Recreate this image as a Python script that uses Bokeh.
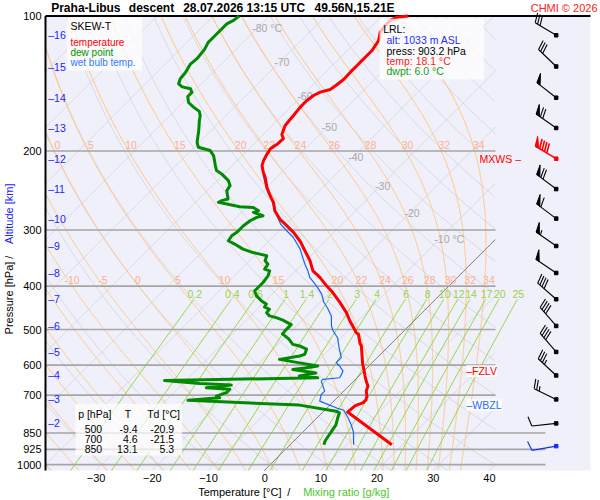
import math
import numpy as np
from bokeh.plotting import figure
from bokeh.models import (Range1d, FixedTicker, PrintfTickFormatter, Label, BoxAnnotation)
from bokeh.core.properties import value
from bokeh.embed import file_html
from bokeh.resources import INLINE

# ---------------- data ----------------
temp_p = [100.0, 100.6, 102.3, 105.0, 108.7, 113.4, 116.3, 119.4, 122.5, 125.6, 128.9, 133.4,
          138.5, 142.9, 145.8, 147.8, 150.4, 154.3, 159.6, 166.7, 175.5, 183.7, 187.6, 193.5,
          197.5, 202.6, 210.1, 215.5, 222.9, 228.6, 240.7, 251.5, 260.3, 271.6, 283.6, 293.4,
          303.6, 318.6, 333.7, 351.3, 369.9, 382.6, 399.5, 413.5, 434.8, 458.4, 478.4, 499.3,
          508.0, 512.3, 535.7, 544.0, 572.7, 597.8, 613.4, 634.8, 651.4, 668.3, 685.8, 703.6,
          717.3, 728.6, 734.8, 740.8, 763.6, 903.2]
temp_t = [-55.3, -57.1, -57.7, -57.7, -57.4, -56.2, -55.9, -55.6, -55.6, -55.6, -55.6, -55.6,
          -55.5, -55.8, -56.1, -57.4, -58.0, -58.3, -58.3, -58.0, -57.7, -56.7, -55.7, -55.8,
          -56.2, -55.9, -55.3, -54.7, -53.3, -52.1, -50.0, -47.9, -46.1, -44.4, -42.0, -39.6,
          -37.2, -34.3, -31.9, -29.2, -26.9, -24.5, -21.8, -19.5, -16.5, -13.5, -11.4, -9.1,
          -8.2, -7.5, -5.7, -4.9, -3.0, -1.4, -0.3, 1.1, 2.2, 3.4, 4.0, 5.0,
          5.5, 5.5, 4.9, 4.6, 4.4, 18.1]

dewp_p = [100.0, 102.3, 104.1, 107.7, 111.5, 114.5, 118.7, 124.5, 128.2, 133.6, 138.0, 141.6,
          143.9, 145.3, 148.0, 151.2, 155.9, 159.6, 163.2, 166.7, 171.9, 180.0, 191.2, 196.1,
          199.5, 204.7, 215.5, 221.1, 224.9, 232.8, 238.9, 245.1, 255.8, 258.0, 260.3, 262.5,
          266.2, 267.1, 271.6, 274.0, 278.7, 281.1, 286.0, 293.4, 303.6, 308.9, 317.0, 322.4,
          330.9, 336.8, 339.5, 342.4, 351.3, 357.4, 366.7, 369.9, 379.5, 392.7, 403.4, 409.9,
          420.6, 431.6, 438.4, 445.2, 450.6, 458.4, 466.2, 470.4, 476.2, 487.4, 498.8, 511.2,
          524.6, 539.4, 544.0, 552.9, 567.8, 572.7, 582.7, 593.2, 603.0, 608.4, 614.1, 624.6,
          634.8, 640.4, 649.4, 659.5, 664.9, 673.7, 679.4, 691.3, 703.6, 709.7, 719.1, 728.0,
          736.9, 760.1, 767.0, 787.5, 815.4, 837.6, 860.0, 883.6, 903.2]
dewp_t = [-85.4, -85.6, -86.2, -86.2, -86.2, -86.2, -85.6, -85.3, -85.5, -84.9, -84.7, -84.1,
          -82.9, -81.1, -80.2, -80.2, -79.0, -77.3, -75.5, -74.6, -73.7, -72.2, -70.4, -69.3,
          -66.6, -65.1, -63.0, -61.9, -60.4, -58.0, -56.8, -56.5, -54.8, -55.6, -55.9, -54.1,
          -51.3, -48.8, -47.3, -47.9, -45.6, -46.4, -47.0, -47.3, -47.3, -47.6, -47.3, -45.6,
          -43.2, -40.8, -39.3, -37.8, -37.2, -36.1, -35.8, -34.6, -34.0, -33.7, -33.7, -33.7,
          -32.5, -30.7, -29.3, -29.1, -27.8, -27.7, -26.6, -25.1, -23.5, -21.2, -21.2, -21.1,
          -19.1, -17.4, -15.9, -14.1, -13.5, -14.1, -17.1, -12.9, -9.1, -10.8, -12.9, -8.2,
          -10.6, -7.0, -33.8, -27.0, -21.1, -25.1, -20.6, -20.6, -21.8, -20.9, -26.1, -15.6,
          -5.4, 2.2, 3.1, 3.7, 4.6, 4.9, 5.2, 5.5, 6.0]

# wet bulb below the level where it leaves the temperature curve
wetb_p = [226.9, 243.1, 258.0, 276.8, 291.9, 301.1, 311.3, 330.4, 347.7, 360.5, 369.9, 382.6,
          399.5, 416.8, 433.5, 447.6, 466.2, 490.8, 503.6, 521.5, 549.7, 577.5, 592.7, 603.0,
          618.7, 629.4, 640.4, 645.7, 651.4, 685.8, 698.3, 722.0, 750.5, 756.4, 786.5, 818.4,
          846.1, 903.2]
wetb_t = [-52.7, -49.7, -46.7, -43.5, -40.8, -38.7, -36.4, -33.1, -30.8, -29.1, -27.8, -26.3,
          -23.6, -21.2, -19.5, -17.7, -15.6, -13.8, -12.6, -10.6, -8.5, -6.4, -6.4, -5.2,
          -3.7, -3.4, -3.1, -5.8, -5.8, -3.4, -3.4, -2.5, 2.2, 3.4, 5.5, 7.5,
          9.0, 11.3]

alt_km = [16, 15, 14, 13, 12, 11, 10, 9, 8, 7, 6, 5, 4, 3, 2]
alt_p = [110.4, 129.6, 152.1, 177.7, 208.0, 243.1, 282.9, 325.6, 374.0, 428.0, 490.8,
         560.9, 632.9, 715.6, 809.4]

wind_km = [1, 2, 3, 4, 5, 6, 7, 8, 9, 10, 11, 12, 13, 14, 15, 16]
wind_p = [909.6, 809.4, 715.6, 632.9, 560.9, 490.8, 428.0, 374.0, 325.6, 282.9, 243.1,
          208.0, 177.7, 152.1, 129.6, 110.4]
wind_dir = [260, 264, 296, 313, 319, 319, 311, 304, 305, 307, 307, 301, 305, 308, 314, 301]
wind_kt = [10, 10, 25, 35, 40, 40, 40, 50, 55, 60, 70, 90, 70, 50, 30, 30]

table_p = [500, 700, 850]
table_t = [-9.4, 4.6, 13.1]
table_td = [-20.9, -21.5, 5.3]

lrl_alt, lrl_press, lrl_temp, lrl_dwpt = 1033, 903.2, 18.1, 6.0
fzlv_p, wbzl_p, mxws_km = 618.7, 737.0, 12

isobars = [200, 300, 400, 500, 600, 700, 850, 925, 1000]
p_ticks = [100, 200, 300, 400, 500, 600, 700, 850, 925, 1000]
t_ticks = [-30, -20, -10, 0, 10, 20, 30, 40]

iso_label_t = [-80, -70, -60, -50, -40, -30, -20, -10]
iso_label_p = [106.5, 126.9, 150.4, 176.9, 206.2, 239.6, 274.9, 314.8]

moist_tw = [-40, -35, -30, -25, -20, -15, -10, -5, 0, 5, 10, 15, 20, 22, 24, 26, 28, 30, 32, 34]
moist_lab_top = [0, 5, 10, 15, 20, 22, 24, 26, 28, 30, 32, 34]
moist_lab_bot = [-10, -5, 0, 5, 10, 15, 20, 22, 24, 26, 28, 30, 32, 34]

mixing_w = [0.2, 0.4, 0.6, 1, 1.4, 2, 3, 4, 6, 8, 10, 12, 14, 17, 20, 25]
mixing_lab = ["0.2", "0.4", "0.6", "1", "1.4", "2", "3", "4", "6", "8", "10", "12", "14",
              "17", "20", "25"]

# ---------------- layout / style ----------------
W, H = 598, 498            # the frame fills the whole canvas
PX_X = 5.6186              # pixels per degree
PX_DEC = 448.6             # pixels per pressure decade
XPIX0 = 264.2              # page x of the 0 tick at 1000 hPa
YPIX100 = 15.5             # page y of 100 hPa
K = PX_DEC / PX_X          # skew
X_OFF = 1.0


def dx(px):               # page x -> data x
    return (px - XPIX0) / PX_X


def dp(py):               # page y -> pressure
    return 100.0 * 10 ** ((py - YPIX100) / PX_DEC)


X_L, X_R = dx(45), dx(590)
P_B, P_T = dp(470), 100.0
X_CLIP, X_CLIP_LOW = dx(495), dx(545)
MR_TOP, MR_LAB = 428.0, 416.0
ML_TOP, ML_BOT = 193.6, 387.6
FONT = "Liberation Sans"
LAV = "#f0f0fb"


def skx(t, pp):
    return np.asarray(t, float) + K * np.log10(1000.0 / np.asarray(pp, float)) + X_OFF


def runs(x, y, ok):
    xs, ys, cx, cy = [], [], [], []
    for xi, yi, oi in zip(x, y, ok):
        if oi:
            cx.append(float(xi)); cy.append(float(yi))
        else:
            if len(cx) > 1:
                xs.append(cx); ys.append(cy)
            cx, cy = [], []
    if len(cx) > 1:
        xs.append(cx); ys.append(cy)
    return xs, ys


p = figure(width=W, height=H, x_range=Range1d(dx(0), dx(W)), y_range=Range1d(dp(H), dp(0)),
           y_axis_type="log", output_backend="svg", toolbar_location=None,
           min_border=0, min_border_left=0, min_border_right=0, min_border_top=0,
           min_border_bottom=0)
p.background_fill_color = "white"
p.border_fill_color = "white"
p.outline_line_color = None
p.xgrid.visible = False
p.ygrid.visible = False

# chart panel
p.quad(left=[X_L], right=[X_R], top=[P_T], bottom=[P_B], fill_color=LAV, line_color=None)

p.xaxis.fixed_location = P_B
p.xaxis.ticker = FixedTicker(ticks=t_ticks)
p.xaxis.axis_line_color = None
p.xaxis.major_tick_line_color = None
p.xaxis.minor_tick_line_color = None
p.xaxis.major_tick_out = 0
p.xaxis.major_tick_in = 0
p.xaxis.major_label_text_font = FONT
p.xaxis.major_label_text_font_size = "11px"
p.xaxis.major_label_text_color = "black"
p.xaxis.major_label_standoff = 3

p.yaxis.fixed_location = X_L
p.yaxis.ticker = FixedTicker(ticks=p_ticks)
p.yaxis.formatter = PrintfTickFormatter(format="%d")
p.yaxis.axis_line_color = None
p.yaxis.major_tick_line_color = None
p.yaxis.minor_tick_line_color = None
p.yaxis.major_tick_out = 0
p.yaxis.major_tick_in = 0
p.yaxis.major_label_text_font = FONT
p.yaxis.major_label_text_font_size = "11px"
p.yaxis.major_label_text_color = "black"
p.yaxis.major_label_standoff = 4

pg = np.geomspace(P_B, P_T, 700)


def inside(x, pp, xmax):
    return (x >= X_L) & (x <= xmax) & (pp <= P_B + 0.01) & (pp >= P_T - 0.01)


# isotherms and dry adiabats
gx, gy = [], []
for t in range(-130, 51, 10):
    x = skx(np.full_like(pg, t), pg)
    a, b = runs(x, pg, inside(x, pg, X_CLIP))
    gx += a; gy += b
for th in range(-40, 211, 10):
    tt = (th + 273.15) * (pg / 1000.0) ** 0.2857 - 273.15
    x = skx(tt, pg)
    a, b = runs(x, pg, inside(x, pg, X_CLIP))
    gx += a; gy += b
p.multi_line(gx, gy, line_color="#d6d6dc", line_width=1)

# pseudo-adiabats
RD, CPD, LV, EPS = 287.04, 1005.7, 2.501e6, 0.622


def dtdp(T, pr):
    tc = T - 273.15
    es = 6.112 * np.exp(17.67 * tc / (tc + 243.5))
    rs = EPS * es / (pr - es)
    return (RD * T + LV * rs) / (CPD + LV * LV * rs * EPS / (RD * T * T)) / pr


def integrate(t0, plev):
    T = np.asarray(t0, float) + 273.15
    out = [T.copy()]
    for i in range(1, len(plev)):
        p0 = plev[i - 1]; h = plev[i] - p0
        k1 = dtdp(T, p0)
        k2 = dtdp(T + 0.5 * h * k1, p0 + 0.5 * h)
        k3 = dtdp(T + 0.5 * h * k2, p0 + 0.5 * h)
        k4 = dtdp(T + h * k3, p0 + h)
        T = T + h * (k1 + 2 * k2 + 2 * k3 + k4) / 6.0
        out.append(T.copy())
    return np.array(out) - 273.15


p_up = np.linspace(1000.0, 100.0, 901)
p_dn = np.linspace(1000.0, 1030.0, 31)
t_up = integrate(moist_tw, p_up)
t_dn = integrate(moist_tw, p_dn)
p_all = np.concatenate([p_dn[::-1], p_up[1:]])
t_all = np.concatenate([t_dn[::-1], t_up[1:]])
mx, my = [], []
for j in range(len(moist_tw)):
    x = skx(t_all[:, j], p_all)
    a, b = runs(x, p_all, inside(x, p_all, X_CLIP))
    mx += a; my += b
p.multi_line(mx, my, line_color="#ffc67a", line_width=1)


def moist_x_at(tw, pl):
    j = moist_tw.index(tw)
    tt = np.interp(np.log(pl), np.log(p_all[::-1]), t_all[::-1, j])
    return float(skx(tt, pl))


# mixing ratio lines
mr_p = np.geomspace(P_B, MR_TOP, 120)
rx, ry, rlx = [], [], []
for w in mixing_w:
    e = w * mr_p / (622.0 + w)
    L = np.log(e / 6.112)
    td = 243.5 * L / (17.67 - L)
    x = skx(td, mr_p)
    rx.append(list(x)); ry.append(list(mr_p)); rlx.append(float(x[-1]))
p.multi_line(rx, ry, line_color="#92d63c", line_width=1)

# 0 degC isotherm
z = skx(np.zeros_like(pg), pg)
zx, zy = runs(z, pg, inside(z, pg, X_CLIP))
p.multi_line(zx, zy, line_color="#6e6e6e", line_width=1)

# isobars
ib_x1 = [X_CLIP if v < 800 else X_CLIP_LOW for v in isobars]
p.segment(x0=[X_L] * len(isobars), y0=isobars, x1=ib_x1, y1=isobars,
          line_color="#a6a6a6", line_width=1.6)

# background labels
txt_kw = dict(text_font=value(FONT), text_font_size=value("10.5px"), text_baseline="middle")
p.text(x=[moist_x_at(tw, ML_TOP) for tw in moist_lab_top], y=[ML_TOP] * len(moist_lab_top),
       text=[str(tw) for tw in moist_lab_top], text_color="#ffae8e", text_align="center",
       x_offset=6, **txt_kw)
p.text(x=[moist_x_at(tw, ML_BOT) for tw in moist_lab_bot], y=[ML_BOT] * len(moist_lab_bot),
       text=[str(tw) for tw in moist_lab_bot], text_color="#ffae8e", text_align="center",
       x_offset=4, **txt_kw)
p.text(x=rlx, y=[MR_LAB] * len(rlx), text=mixing_lab, text_color="#9ad24a",
       text_align="center", x_offset=1, **txt_kw)
iso_txt = [f"{t} °C" if t in (-80, -10) else str(t) for t in iso_label_t]
p.text(x=list(skx(iso_label_t, iso_label_p)), y=iso_label_p, text=iso_txt,
       text_color="#a8a8a8", text_align="left", x_offset=-5, **txt_kw)

# altitude scale
p.text(x=[dx(47.7)] * len(alt_km), y=alt_p, text=[f"\u2013{k}" for k in alt_km],
       text_color="#1c1cff", text_align="left", **txt_kw)

# frame lines (left and top)
p.segment(x0=[X_L, X_L], y0=[P_B, P_T], x1=[X_L, X_R], y1=[P_T, P_T],
          line_color="black", line_width=2)

# profiles
wb_p = [pp for pp in temp_p if pp < wetb_p[0]] + wetb_p
wb_t = [tt for pp, tt in zip(temp_p, temp_t) if pp < wetb_p[0]] + wetb_t
p.line(list(skx(wb_t, wb_p)), wb_p, line_color="#1565f0", line_width=1.2)
p.line(list(skx(dewp_t, dewp_p)), dewp_p, line_color="#008a00", line_width=3,
       line_join="round")
p.line(list(skx(temp_t, temp_p)), temp_p, line_color="#ff0000", line_width=3,
       line_join="round")

# wind barbs
BX = dx(555.7)
SHAFT, FULL, GAP, PENN = 24.5, 10.0, 2.8, 4.0


def barb_parts(ddeg, spd):
    d = math.radians(ddeg)
    sx, sy = math.sin(d), math.cos(d)
    bx, by = sy + 0.3 * sx, -sx + 0.3 * sy
    n = math.hypot(bx, by); bx /= n; by /= n
    segs = [(0.0, 0.0, SHAFT * sx, SHAFT * sy)]
    tris = []
    pos = SHAFT
    n50, rem = divmod(int(round(spd / 5.0)) * 5, 50)
    n10, rem = divmod(rem, 10)
    for _ in range(n50):
        a, b = pos, pos - PENN
        tris.append(([a * sx, a * sx + FULL * bx, b * sx], [a * sy, a * sy + FULL * by, b * sy]))
        pos -= PENN + 1.2
    for _ in range(n10):
        segs.append((pos * sx, pos * sy, pos * sx + FULL * bx, pos * sy + FULL * by))
        pos -= GAP
    if rem >= 5:
        if n50 == 0 and n10 == 0:
            pos -= GAP
        segs.append((pos * sx, pos * sy, pos * sx + 0.5 * FULL * bx, pos * sy + 0.5 * FULL * by))
    return segs, tris


def to_data(p0, ddx, ddy):
    return BX + ddx / PX_X, p0 * 10 ** (-ddy / PX_DEC)


for km, p0, dd, sp in zip(wind_km, wind_p, wind_dir, wind_kt):
    col = "#ff0000" if km == mxws_km else ("#1030ee" if km == min(wind_km) else "black")
    lw = 1.6 if km == mxws_km else 1.1
    segs, tris = barb_parts(dd, sp)
    s0 = [to_data(p0, a, b) for a, b, _, _ in segs]
    s1 = [to_data(p0, c, d) for _, _, c, d in segs]
    p.segment(x0=[q[0] for q in s0], y0=[q[1] for q in s0], x1=[q[0] for q in s1],
              y1=[q[1] for q in s1], line_color=col, line_width=lw)
    if tris:
        txs, tys = [], []
        for tx, ty in tris:
            pts = [to_data(p0, a, b) for a, b in zip(tx, ty)]
            txs.append([q[0] for q in pts]); tys.append([q[1] for q in pts])
        p.patches(txs, tys, fill_color=col, line_color=col, line_width=1)
    p.scatter(x=[BX], y=[p0], marker="square", size=3.5, color=col)


def lab(px, py, text, color="black", size="10.5px", align="left", baseline="middle",
        style="normal", angle=0.0, ydata=False, bg=None):
    kw = dict(x=px, y=(py if ydata else H - py), x_units="screen",
              y_units=("data" if ydata else "screen"), text=text, text_color=color,
              text_font=FONT, text_font_size=size, text_align=align,
              text_baseline=baseline, text_font_style=style, angle=angle)
    if bg:
        kw.update(background_fill_color=bg, background_fill_alpha=0.75)
    p.add_layout(Label(**kw))


def box(x0, y0, x1, y1):
    p.add_layout(BoxAnnotation(left=x0, right=x1, top=H - y0, bottom=H - y1,
                               left_units="screen", right_units="screen",
                               top_units="screen", bottom_units="screen",
                               fill_color="white", fill_alpha=0.72, line_color=None))


# legend box
box(66.7, 16.7, 141.7, 70.0)
lab(70, 25.8, "SKEW-T", "black", "10.5px")
lab(70, 42.3, "temperature", "#ff0000", "10px")
lab(70, 52.0, "dew point", "#009400", "10px")
lab(70, 62.0, "wet bulb temp.", "#3578ff", "10px")

# LRL box
box(379.0, 18.3, 483.3, 79.0)
lab(382.7, 28.3, "LRL:", "black")
lab(386, 39.3, f"alt: {lrl_alt} m ASL", "#1f2dff")
lab(386, 50.0, f"press: {lrl_press} hPa", "black")
lab(386, 60.7, f"temp: {lrl_temp} °C", "#ff1a1a")
lab(386, 70.3, f"dwpt: {lrl_dwpt} °C", "#149c14")

# table box
box(75.0, 403.3, 181.7, 455.0)
lab(77.7, 413.3, "p [hPa]", "black")
lab(127.5, 413.3, "T", "black", align="center")
lab(146.7, 413.3, "Td [°C]", "black")
for i, (pp, tt, dd) in enumerate(zip(table_p, table_t, table_td)):
    yy = 428.3 + 10.0 * i
    lab(101.7, yy, f"{pp}", "black", align="right")
    lab(137.0, yy, f"{tt:.1f}", "black", align="right")
    lab(173.7, yy, f"{dd:.1f}", "black", align="right")

# level markers
lab(465.7, fzlv_p, "\u2013FZLV", "#ff0000", ydata=True, bg="white")
lab(466.0, wbzl_p, "\u2013WBZL", "#2a6df0", ydata=True, bg="white")
lab(520.5, wind_p[wind_km.index(mxws_km)], "MXWS \u2013", "#ff0000", align="right",
    ydata=True)

# header
HY = 7.8
lab(50.7, HY, "Praha-Libus", "black", "12px", style="bold")
lab(128.3, HY, "descent", "black", "12px", style="bold")
lab(182.7, HY, "28.07.2026 13:15 UTC", "black", "12px", style="bold")
lab(314.0, HY, "49.56N,15.21E", "black", "12px", style="bold")
lab(597.0, HY, "CHMI \u00a9 2026", "#ff2020", "11px", align="right")

# axis titles
lab(8.5, 297.5, "Pressure [hPa]", "black", "11px", align="center", angle=math.pi / 2)
lab(8.5, 256.7, "/", "black", "11px", align="center", angle=math.pi / 2)
lab(8.5, 213.3, "Altitude [km]", "#2020ff", "11px", align="center", angle=math.pi / 2)
lab(197.7, 491.0, "Temperature [°C]", "black", "11px")
lab(288.3, 491.0, "/", "black", "11px", align="center")
lab(302.7, 491.0, "Mixing ratio [g/kg]", "#4cc52a", "11px")

open("out.html", "w").write(file_html(p, INLINE))
